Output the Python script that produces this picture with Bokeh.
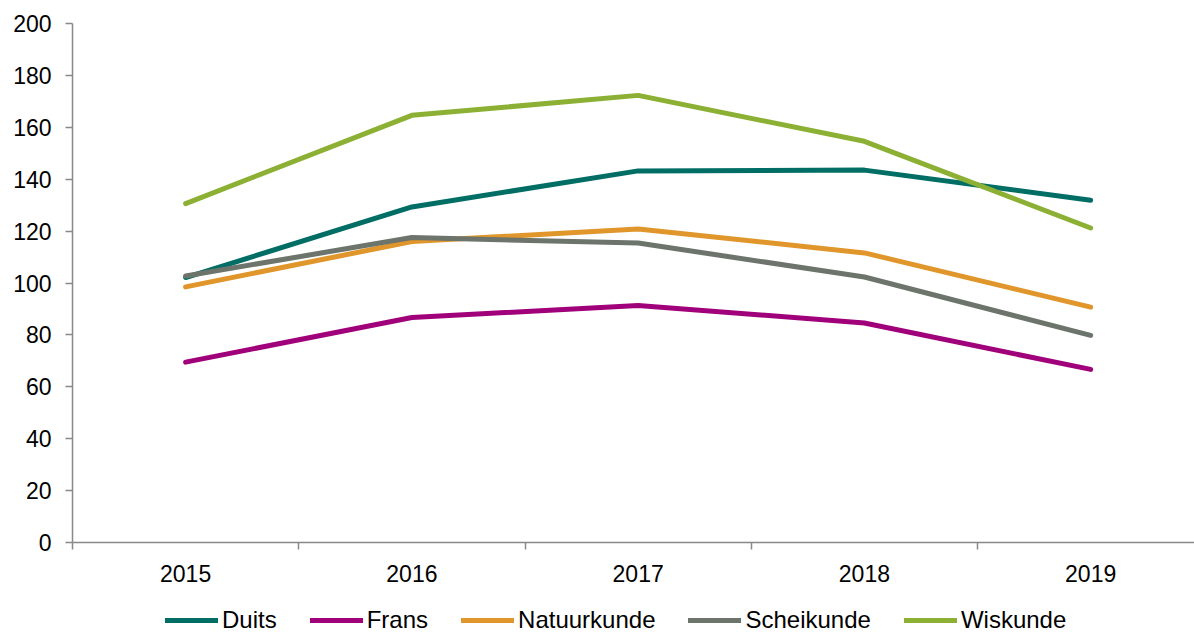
from bokeh.plotting import figure
from bokeh.layouts import column
from bokeh.models import Range1d, FixedTicker, Legend, LegendItem
from bokeh.embed import file_html
from bokeh.resources import INLINE

years = ["2015", "2016", "2017", "2018", "2019"]
duits = [102.1, 129.3, 143.2, 143.5, 131.9]
frans = [69.5, 86.7, 91.3, 84.6, 66.7]
natuurkunde = [98.5, 116.0, 120.8, 111.6, 90.7]
scheikunde = [102.7, 117.5, 115.4, 102.3, 79.8]
wiskunde = [130.6, 164.6, 172.3, 154.6, 121.2]
series_names = ["Duits", "Frans", "Natuurkunde", "Scheikunde", "Wiskunde"]
series_values = [duits, frans, natuurkunde, scheikunde, wiskunde]
colors = ["#006E64", "#A0007A", "#E0962A", "#6C746C", "#8BB033"]
y_ticks = list(range(0, 201, 20))

FONT = "Liberation Sans"
AXIS_COLOR = "#898989"

xs = list(range(len(years)))

p = figure(width=1194, height=590, output_backend="svg", toolbar_location=None,
           x_range=Range1d(-0.5, 4.459), y_range=Range1d(0, 200),
           min_border_left=72, min_border_right=0, min_border_top=23,
           min_border_bottom=48)
p.outline_line_color = None
p.grid.grid_line_color = None
p.background_fill_color = "white"
p.border_fill_color = "white"

# x axis
xa = p.xaxis[0]
xa.ticker = FixedTicker(ticks=xs, minor_ticks=[i - 0.5 for i in xs])
xa.major_label_overrides = {i: y for i, y in enumerate(years)}
xa.major_tick_line_color = None
xa.major_tick_out = 0
xa.major_tick_in = 0
xa.minor_tick_out = 7
xa.minor_tick_in = 0
xa.minor_tick_line_color = AXIS_COLOR
xa.minor_tick_line_width = 1.5
xa.axis_line_color = AXIS_COLOR
xa.axis_line_width = 1.5
xa.major_label_standoff = 15
xa.major_label_text_font = FONT
xa.major_label_text_font_size = "23px"
xa.major_label_text_color = "black"

# y axis
ya = p.yaxis[0]
ya.ticker = FixedTicker(ticks=y_ticks)
ya.major_tick_out = 7
ya.major_tick_in = 0
ya.minor_tick_line_color = None
ya.major_tick_line_color = AXIS_COLOR
ya.major_tick_line_width = 1.5
ya.axis_line_color = AXIS_COLOR
ya.axis_line_width = 1.5
ya.major_label_standoff = 14
ya.major_label_text_font = FONT
ya.major_label_text_font_size = "23px"
ya.major_label_text_color = "black"

for name, vals, col in zip(series_names, series_values, colors):
    p.line(xs, vals, line_color=col, line_width=5, line_cap="round", line_join="round")

# legend strip underneath (frames are aligned with the main figure)
lg = figure(width=1194, height=44, output_backend="svg", toolbar_location=None,
            x_range=Range1d(0, 1), y_range=Range1d(0, 1),
            x_axis_location=None, y_axis_location=None,
            min_border_left=72, min_border_right=0, min_border_top=0, min_border_bottom=0)
lg.outline_line_color = None
lg.grid.grid_line_color = None
nan = float("nan")
items = []
for name, col in zip(series_names, colors):
    r = lg.line(x=[nan], y=[nan], line_color=col, line_width=5, line_cap="round")
    items.append(LegendItem(label=name, renderers=[r]))

legend = Legend(items=items, orientation="horizontal", location=(93, 0),
                glyph_width=53, glyph_height=24, label_standoff=4, spacing=33,
                padding=0, margin=0, border_line_color=None,
                background_fill_alpha=0,
                label_text_font=FONT, label_text_font_size="24px",
                label_text_color="black")
lg.add_layout(legend, "center")

layout = column(p, lg, spacing=0)
open("out.html", "w").write(file_html(layout, INLINE))
